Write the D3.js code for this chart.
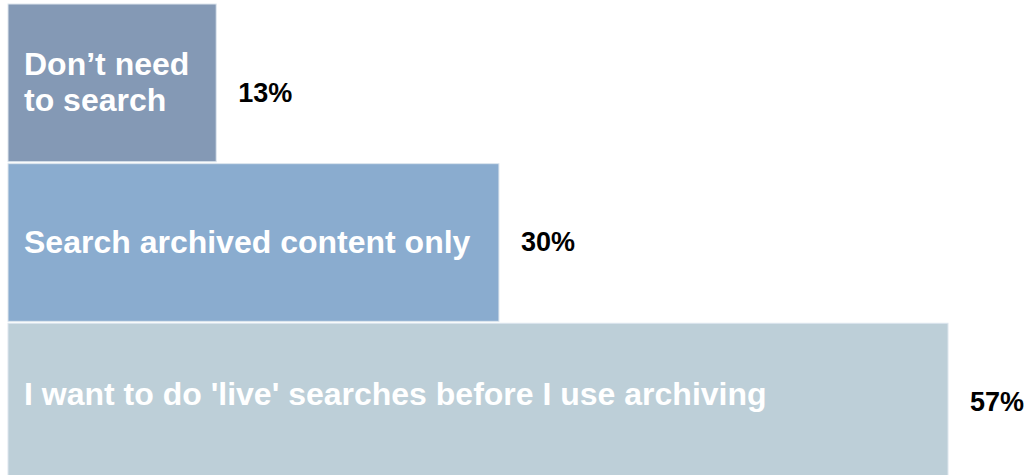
<!DOCTYPE html>
<html>
<head>
<meta charset="utf-8">
<script src="https://cdn.jsdelivr.net/npm/d3@7"></script>
<style>
  body { margin: 0; background: #fff; }
  svg { display: block; }
</style>
</head>
<body>
<div id="chart"></div>
<script>
// answers, top to bottom
const categories = ["Don’t need to search", "Search archived content only", "I want to do 'live' searches before I use archiving"];
const labelLines = [["Don’t need", "to search"], ["Search archived content only"], ["I want to do 'live' searches before I use archiving"]];
const values = [13, 30, 57];
const colors = ["#8499b5", "#8aaccf", "#bdcfd8"];

const width = 1025, height = 475;
// small vertical nudges so the texts sit where the original put them
const labelDy = [10, 10, 3];
const pctDy = [19, 8, 9];

const svg = d3.select("#chart").append("svg")
    .attr("width", width)
    .attr("height", height)
    .style("font-family", "'Liberation Sans', Arial, sans-serif");

const x = d3.scaleLinear().domain([0, 57]).range([0, 948]);
const y = d3.scaleBand().domain(categories).range([4, 481]).paddingInner(0.012);
const x0 = 8;

const row = svg.selectAll("g.row")
    .data(categories)
    .join("g")
    .attr("class", "row");

row.append("rect")
    .attr("x", x0)
    .attr("y", d => y(d))
    .attr("width", (d, i) => x(values[i]) - x0)
    .attr("height", y.bandwidth())
    .attr("fill", (d, i) => colors[i])
    .attr("stroke", "#dde6ee")
    .attr("stroke-width", 1);

// labels inside bars
row.append("text")
    .attr("fill", "#fff")
    .attr("font-weight", "bold")
    .attr("font-size", 32)
    .selectAll("tspan")
    .data((d, i) => labelLines[i].map((t, j) => ({t, j, n: labelLines[i].length, c: d, i})))
    .join("tspan")
    .attr("x", 24)
    .attr("y", d => y(d.c) + y.bandwidth() / 2 + labelDy[d.i] + (d.j - (d.n - 1) / 2) * 36)
    .text(d => d.t);

// percentages
row.append("text")
    .attr("x", (d, i) => x(values[i]) + 22)
    .attr("y", (d, i) => y(d) + y.bandwidth() / 2 + pctDy[i])
    .attr("font-weight", "bold")
    .attr("font-size", 27)
    .attr("fill", "#000")
    .text((d, i) => values[i] + "%");
</script>
</body>
</html>
